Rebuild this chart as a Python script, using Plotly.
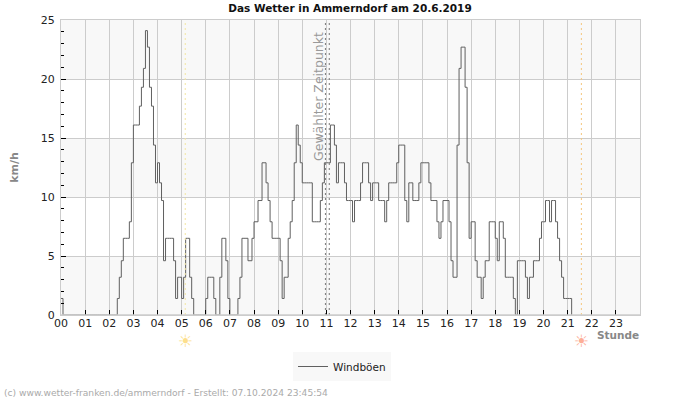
import plotly.graph_objects as go

HOUR_LABELS = [f"{h:02d}" for h in range(24)]
Y_TICKS = [0, 5, 10, 15, 20, 25]
BANDS = [(0, 5), (10, 15), (20, 25)]

H00 = [1.4, 0, 0, 0, 0, 0, 0, 0, 0, 0, 0, 0]
H01 = [0, 0, 0, 0, 0, 0, 0, 0, 0, 0, 0, 0]
H02 = [0, 0, 0, 0, 1.4, 3.2, 4.6, 6.5, 6.5, 6.5, 7.9, 12.9]
H03 = [16.1, 16.1, 16.1, 17.7, 19.3, 20.9, 24.1, 22.7, 19.3, 17.7, 14.4, 11.2]
H04 = [12.9, 11.2, 9.7, 4.6, 6.5, 6.5, 6.5, 6.5, 4.6, 1.4, 3.2, 3.2]
H05 = [1.4, 3.2, 6.5, 6.5, 3.2, 1.4, 0, 0, 0, 0, 0, 0]
H06 = [1.4, 3.2, 3.2, 3.2, 1.4, 0, 0, 3.2, 6.5, 6.5, 4.6, 1.4]
H07 = [0, 0, 0, 0, 1.4, 3.2, 6.5, 6.5, 6.5, 4.6, 4.6, 6.5]
H08 = [7.9, 7.9, 9.7, 9.7, 12.9, 12.9, 11.2, 9.7, 7.9, 6.5, 6.5, 6.5]
H09 = [6.5, 4.6, 1.4, 3.2, 3.2, 6.5, 7.9, 9.7, 12.9, 16.1, 14.4, 12.9]
H10 = [11.2, 11.2, 11.2, 11.2, 11.2, 7.9, 7.9, 7.9, 7.9, 9.7, 11.2, 12.9]
H11 = [12.9, 12.9, 16.1, 16.1, 14.4, 11.2, 12.9, 12.9, 12.9, 11.2, 9.7, 9.7]
H12 = [9.7, 7.9, 9.7, 9.7, 9.7, 11.2, 12.9, 12.9, 12.9, 11.2, 9.7, 11.2]
H13 = [11.2, 11.2, 9.7, 9.7, 9.7, 7.9, 9.7, 11.2, 11.2, 11.2, 11.2, 12.9]
H14 = [14.4, 14.4, 14.4, 9.7, 7.9, 11.2, 11.2, 9.7, 9.7, 9.7, 11.2, 12.9]
H15 = [12.9, 12.9, 12.9, 11.2, 9.7, 9.7, 9.7, 7.9, 6.5, 7.9, 9.7, 9.7]
H16 = [9.7, 7.9, 4.6, 3.2, 3.2, 14.4, 20.9, 22.7, 22.7, 19.3, 12.9, 6.5]
H17 = [7.9, 7.9, 4.6, 3.2, 3.2, 1.4, 3.2, 4.6, 4.6, 7.9, 7.9, 7.9]
H18 = [6.5, 4.6, 7.9, 7.9, 6.5, 3.2, 3.2, 3.2, 3.2, 1.4, 0, 4.6]
H19 = [4.6, 4.6, 4.6, 3.2, 1.4, 3.2, 3.2, 4.6, 4.6, 4.6, 6.5, 7.9]
H20 = [7.9, 9.7, 9.7, 7.9, 9.7, 9.7, 7.9, 6.5, 4.6, 3.2, 1.4, 1.4]
H21 = [1.4, 1.4, 0]

gusts = (H00 + H01 + H02 + H03 + H04 + H05 + H06 + H07 + H08 + H09 + H10 + H11
         + H12 + H13 + H14 + H15 + H16 + H17 + H18 + H19 + H20 + H21)
times = [i / 12 for i in range(len(gusts))]

SUNRISE = 5.15
SUNSET = 21.57
SELECTED = [10.96, 11.12]

GRID = "#cccccc"
W, H = 700, 400
L, R, T, B = 61, 60, 20, 85
PW, PH = W - L - R, H - T - B

def px(x):
    return (x - L) / PW

def py(y):
    return (H - B - y) / PH

fig = go.Figure()

fig.add_trace(go.Scatter(
    x=times, y=gusts, mode="lines", name="Windböen", showlegend=True,
    line=dict(color="#606060", width=1, shape="hv"),
))

shapes = [dict(type="rect", xref="paper", x0=0, x1=1, yref="y", y0=a, y1=b,
               fillcolor="#f8f8f8", line_width=0, layer="below") for a, b in BANDS]
for t, col in [(SUNRISE, "#f3e6a0"), (SUNSET, "#f5c77e"),
               (SELECTED[0], "#777777"), (SELECTED[1], "#777777")]:
    shapes.append(dict(type="line", xref="x", x0=t, x1=t, yref="paper", y0=0, y1=1,
                       line=dict(color=col, width=1, dash="2px,3px"), layer="above"))
# baseline drawn over the series so that calm spells do not show a dark line on the axis
shapes.append(dict(type="line", xref="paper", x0=0, x1=1, yref="y", y0=0, y1=0,
                   line=dict(color=GRID, width=1.6), layer="above"))

annotations = [
    dict(text="Gewählter Zeitpunkt", x=px(318), xref="paper", xanchor="center",
         y=py(97), yref="paper", yanchor="middle", showarrow=False, textangle=-90,
         font=dict(family="DejaVu Sans", size=12.5, color="#999999")),
    dict(text="<b>Stunde</b>", x=px(618), xref="paper", xanchor="center", y=py(335), yref="paper",
         yanchor="middle", showarrow=False,
         font=dict(family="DejaVu Sans", size=10.5, color="#888888")),
    dict(text="(c) www.wetter-franken.de/ammerndorf - Erstellt: 07.10.2024 23:45:54",
         x=px(2), xref="paper", xanchor="left", y=py(393), yref="paper",
         yanchor="middle", showarrow=False,
         font=dict(family="DejaVu Sans", size=9.15, color="#aaaaaa")),
]
for t, col in [(SUNRISE, "#fddf8c"), (SUNSET, "#fdae96")]:
    annotations.append(dict(text="☀", x=t, xref="x", xanchor="center", y=py(341), yref="paper",
                            yanchor="middle", showarrow=False,
                            font=dict(family="DejaVu Sans", size=17, color=col)))

fig.update_layout(
    width=W, height=H, autosize=False,
    margin=dict(l=L, r=R, t=T, b=B, pad=0),
    paper_bgcolor="white", plot_bgcolor="white",
    font=dict(family="DejaVu Sans", size=11, color="#222222"),
    title=dict(text="<b>Das Wetter in Ammerndorf am 20.6.2019</b>", x=350 / W, xanchor="center",
               y=1 - 8 / H, yanchor="middle", font=dict(size=10.5, color="#111111")),
    xaxis=dict(range=[0, 24], tickmode="array", tickvals=list(range(24)), ticktext=HOUR_LABELS,
               showgrid=True, gridcolor=GRID, gridwidth=1, ticks="inside", ticklen=5,
               tickcolor="#000000", tickwidth=1, showline=True, linecolor=GRID, linewidth=1,
               mirror=True, zeroline=False, tickfont=dict(size=11), ticklabelstandoff=-2),
    yaxis=dict(range=[0, 25], tickmode="array", tickvals=Y_TICKS,
               showgrid=True, gridcolor=GRID, gridwidth=1, ticks="inside", ticklen=5,
               tickcolor="#000000", tickwidth=1, showline=True, linecolor=GRID, linewidth=1,
               mirror=True, zeroline=False, tickfont=dict(size=11), ticklabelstandoff=3,
               minor=dict(dtick=1, ticks="inside", ticklen=3, tickcolor="#000000", showgrid=False),
               title=dict(text="<b>km/h</b>", standoff=19, font=dict(size=11, color="#888888"))),
    legend=dict(x=px(342), xanchor="center", y=py(352), yanchor="top",
                bgcolor="#f8f8f8", font=dict(size=10.5), itemwidth=30, orientation="h"),
    shapes=shapes, annotations=annotations,
)

fig.write_html("out.html", config=dict(displayModeBar=False),
               post_script="document.body.style.margin='0';")
